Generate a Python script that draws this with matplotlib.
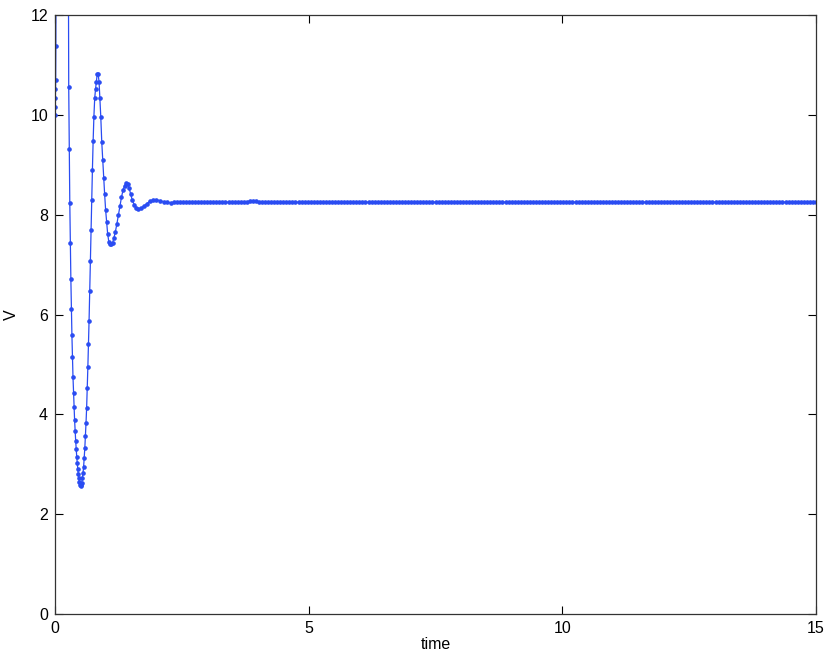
import matplotlib
matplotlib.use("Agg")
import matplotlib.pyplot as plt

# transient part (times, V values)
t_osc = [0.000, 0.003, 0.006, 0.009, 0.012, 0.016, 0.020, 0.050, 0.150, 0.240,
         0.270, 0.281, 0.291, 0.302, 0.312, 0.323, 0.333, 0.344, 0.354, 0.365,
         0.375, 0.386, 0.396, 0.407, 0.417, 0.428, 0.438, 0.449, 0.459, 0.470,
         0.480, 0.491, 0.503,
         0.515, 0.527, 0.539, 0.551, 0.563, 0.575, 0.587, 0.599, 0.611, 0.623,
         0.635, 0.647, 0.659, 0.671, 0.684, 0.697, 0.710, 0.723, 0.737, 0.751,
         0.766, 0.782, 0.798, 0.815, 0.832, 0.851, 0.868, 0.885, 0.902, 0.921,
         0.940, 0.959, 0.978, 0.997, 1.016, 1.037, 1.060, 1.085, 1.110, 1.135,
         1.160, 1.190, 1.220, 1.250, 1.280, 1.310, 1.340, 1.370, 1.400, 1.430,
         1.460, 1.490, 1.520, 1.560, 1.600, 1.645, 1.695, 1.750, 1.810, 1.870,
         1.940, 2.000, 2.070, 2.140, 2.210, 2.280, 2.350, 2.400]
v_osc = [10.00, 10.16, 10.34, 10.51, 10.69, 11.38, 14.50, 25.0, 32.0, 22.0,
         10.55, 9.31, 8.24, 7.44, 6.72, 6.12, 5.58, 5.14, 4.75, 4.43,
         4.14, 3.88, 3.67, 3.47, 3.30, 3.15, 3.02, 2.90, 2.80, 2.72,
         2.64, 2.59, 2.56,
         2.58, 2.63, 2.72, 2.82, 2.94, 3.12, 3.32, 3.56, 3.83, 4.13,
         4.52, 4.94, 5.40, 5.88, 6.48, 7.08, 7.69, 8.29, 8.90, 9.47,
         9.96, 10.33, 10.51, 10.66, 10.82, 10.81, 10.66, 10.33, 9.96, 9.46,
         9.10, 8.74, 8.41, 8.10, 7.86, 7.62, 7.46, 7.41, 7.41, 7.44,
         7.53, 7.66, 7.82, 8.00, 8.18, 8.35, 8.49, 8.58, 8.63, 8.61,
         8.53, 8.42, 8.30, 8.20, 8.14, 8.12, 8.13, 8.17, 8.22, 8.27,
         8.30, 8.30, 8.28, 8.26, 8.245, 8.24, 8.245, 8.25]

# settled part
t_tail = [2.46, 2.52, 2.58, 2.64, 2.70, 2.76, 2.82, 2.88, 2.94, 3.00,
          3.06, 3.12, 3.18, 3.24, 3.30, 3.36, 3.42, 3.48, 3.54, 3.60,
          3.66, 3.72, 3.78, 3.84, 3.90, 3.96, 4.02, 4.08, 4.14, 4.20,
          4.26, 4.32, 4.38, 4.44, 4.50, 4.56, 4.62, 4.68, 4.74, 4.80,
          4.86, 4.92, 4.98, 5.04, 5.10, 5.16, 5.22, 5.28, 5.34, 5.40,
          5.46, 5.52, 5.58, 5.64, 5.70, 5.76, 5.82, 5.88, 5.94, 6.00,
          6.06, 6.12, 6.18, 6.24, 6.30, 6.36, 6.42, 6.48, 6.54, 6.60,
          6.66, 6.72, 6.78, 6.84, 6.90, 6.96, 7.02, 7.08, 7.14, 7.20,
          7.26, 7.32, 7.38, 7.44, 7.50, 7.56, 7.62, 7.68, 7.74, 7.80,
          7.86, 7.92, 7.98, 8.04, 8.10, 8.16, 8.22, 8.28, 8.34, 8.40,
          8.46, 8.52, 8.58, 8.64, 8.70, 8.76, 8.82, 8.88, 8.94, 9.00,
          9.06, 9.12, 9.18, 9.24, 9.30, 9.36, 9.42, 9.48, 9.54, 9.60,
          9.66, 9.72, 9.78, 9.84, 9.90, 9.96, 10.02, 10.08, 10.14, 10.20,
          10.26, 10.32, 10.38, 10.44, 10.50, 10.56, 10.62, 10.68, 10.74, 10.80,
          10.86, 10.92, 10.98, 11.04, 11.10, 11.16, 11.22, 11.28, 11.34, 11.40,
          11.46, 11.52, 11.58, 11.64, 11.70, 11.76, 11.82, 11.88, 11.94, 12.00,
          12.06, 12.12, 12.18, 12.24, 12.30, 12.36, 12.42, 12.48, 12.54, 12.60,
          12.66, 12.72, 12.78, 12.84, 12.90, 12.96, 13.02, 13.08, 13.14, 13.20,
          13.26, 13.32, 13.38, 13.44, 13.50, 13.56, 13.62, 13.68, 13.74, 13.80,
          13.86, 13.92, 13.98, 14.04, 14.10, 14.16, 14.22, 14.28, 14.34, 14.40,
          14.46, 14.52, 14.58, 14.64, 14.70, 14.76, 14.82, 14.88, 14.94, 15.00]
v_tail = [8.25, 8.25, 8.25, 8.25, 8.25, 8.25, 8.25, 8.25, 8.25, 8.25,
          8.25, 8.25, 8.25, 8.25, 8.25, 8.25, 8.25, 8.25, 8.25, 8.25,
          8.25, 8.25, 8.26, 8.27, 8.27, 8.27, 8.26, 8.25, 8.25, 8.25,
          8.25, 8.25, 8.25, 8.25, 8.25, 8.25, 8.25, 8.25, 8.25, 8.25,
          8.25, 8.25, 8.25, 8.25, 8.25, 8.25, 8.25, 8.25, 8.25, 8.25,
          8.25, 8.25, 8.25, 8.25, 8.25, 8.25, 8.25, 8.25, 8.25, 8.25,
          8.25, 8.25, 8.25, 8.25, 8.25, 8.25, 8.25, 8.25, 8.25, 8.25,
          8.25, 8.25, 8.25, 8.25, 8.25, 8.25, 8.25, 8.25, 8.25, 8.25,
          8.25, 8.25, 8.25, 8.25, 8.25, 8.25, 8.25, 8.25, 8.25, 8.25,
          8.25, 8.25, 8.25, 8.25, 8.25, 8.25, 8.25, 8.25, 8.25, 8.25,
          8.25, 8.25, 8.25, 8.25, 8.25, 8.25, 8.25, 8.25, 8.25, 8.25,
          8.25, 8.25, 8.25, 8.25, 8.25, 8.25, 8.25, 8.25, 8.25, 8.25,
          8.25, 8.25, 8.25, 8.25, 8.25, 8.25, 8.25, 8.25, 8.25, 8.25,
          8.25, 8.25, 8.25, 8.25, 8.25, 8.25, 8.25, 8.25, 8.25, 8.25,
          8.25, 8.25, 8.25, 8.25, 8.25, 8.25, 8.25, 8.25, 8.25, 8.25,
          8.25, 8.25, 8.25, 8.25, 8.25, 8.25, 8.25, 8.25, 8.25, 8.25,
          8.25, 8.25, 8.25, 8.25, 8.25, 8.25, 8.25, 8.25, 8.25, 8.25,
          8.25, 8.25, 8.25, 8.25, 8.25, 8.25, 8.25, 8.25, 8.25, 8.25,
          8.25, 8.25, 8.25, 8.25, 8.25, 8.25, 8.25, 8.25, 8.25, 8.25,
          8.25, 8.25, 8.25, 8.25, 8.25, 8.25, 8.25, 8.25, 8.25, 8.25,
          8.25, 8.25, 8.25, 8.25, 8.25, 8.25, 8.25, 8.25, 8.25, 8.25]

x_ticks = [0, 5, 10, 15]
y_ticks = [0, 2, 4, 6, 8, 10, 12]

plt.rcParams['font.family'] = ['Liberation Sans', 'DejaVu Sans']

fig = plt.figure(figsize=(8.3, 6.62), dpi=100)
ax = fig.add_axes([0.0663, 0.0725, 0.9168, 0.9048])

t = t_osc + t_tail
v = v_osc + v_tail
ax.plot(t, v, color='#2a4cf2', linewidth=0.9, marker='.', markersize=4.6)

ax.set_xlim(0, 15)
ax.set_ylim(0, 12)
ax.set_xticks(x_ticks)
ax.set_yticks(y_ticks)
ax.tick_params(direction='in', length=6, width=0.8, top=True, right=True,
               labelsize=11.5, pad=5)
for s in ax.spines.values():
    s.set_linewidth(0.9)
    s.set_color('#333333')

ax.set_xlabel('time', fontsize=11.5, labelpad=1)
ax.set_ylabel('V', fontsize=11.5, labelpad=8)

fig.savefig('out.png', dpi=100)
